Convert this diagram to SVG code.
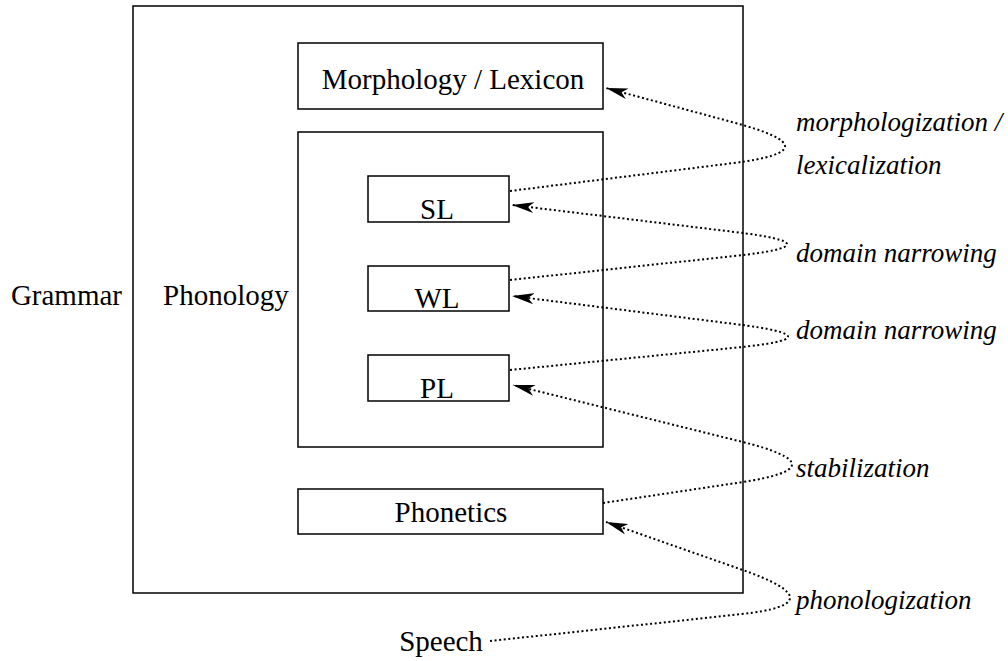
<svg xmlns="http://www.w3.org/2000/svg" width="1008" height="661" viewBox="0 0 1008 661">
  <style>
    .box { fill: none; stroke: #000; stroke-width: 1.5; }
    .t { font-family: "Liberation Serif", "Times New Roman", Tinos, "Noto Serif", "DejaVu Serif", serif; font-size: 29px; fill: #000; }
    .lbl { font-family: "Liberation Serif", "Times New Roman", Tinos, "Noto Serif", "DejaVu Serif", serif; font-size: 27px; font-style: italic; fill: #000; }
    .c { fill: none; stroke: #000; stroke-width: 2; stroke-dasharray: 2 2.6; }
  </style>
  <defs>
    <marker id="ar" markerUnits="userSpaceOnUse" viewBox="0 0 22 12" markerWidth="22" markerHeight="12" refX="22" refY="6" orient="auto">
      <path d="M0,0.5 L22,6 L0,11.5 L6,6 Z" fill="#000" stroke="none"/>
    </marker>
  </defs>
  <rect width="1008" height="661" fill="#fff"/>

  <g id="grammar">
    <rect class="box" x="133" y="6" width="610" height="587"/>
    <text class="t" x="122" y="305" text-anchor="end">Grammar</text>
  </g>
  <g id="morphology">
    <rect class="box" x="298" y="43" width="305" height="66"/>
    <text class="t" x="453" y="89" text-anchor="middle">Morphology / Lexicon</text>
  </g>
  <g id="phonology">
    <rect class="box" x="298" y="132" width="305" height="315"/>
    <text class="t" x="163" y="305">Phonology</text>
  </g>
  <g id="sl">
    <rect class="box" x="368" y="176" width="141" height="46"/>
    <text class="t" x="437" y="219" text-anchor="middle">SL</text>
  </g>
  <g id="wl">
    <rect class="box" x="368" y="266" width="141" height="45"/>
    <text class="t" x="437" y="308" text-anchor="middle">WL</text>
  </g>
  <g id="pl">
    <rect class="box" x="368" y="355" width="141" height="46"/>
    <text class="t" x="437" y="398" text-anchor="middle">PL</text>
  </g>
  <g id="phonetics">
    <rect class="box" x="298" y="489" width="305" height="45"/>
    <text class="t" x="451" y="522" text-anchor="middle">Phonetics</text>
  </g>
  <g id="speech">
    <text class="t" x="441" y="651" text-anchor="middle">Speech</text>
  </g>

  <g id="labels">
    <text class="lbl" x="796" y="131">morphologization /</text>
    <text class="lbl" x="796" y="174">lexicalization</text>
    <text class="lbl" x="796" y="262">domain narrowing</text>
    <text class="lbl" x="796" y="339">domain narrowing</text>
    <text class="lbl" x="796" y="477">stabilization</text>
    <text class="lbl" x="796" y="609">phonologization</text>
  </g>

  <g id="connectors">
    <path class="c" marker-end="url(#ar)" d="M510,191 L733,163.1 Q837,150 733,122.3 L606,88"/>
    <path class="c" marker-end="url(#ar)" d="M510,280 L734,256 Q840,244.7 734,231.9 L512,205"/>
    <path class="c" marker-end="url(#ar)" d="M510,370 L734.6,347.8 Q841.4,337.3 734.6,324 L512,296"/>
    <path class="c" marker-end="url(#ar)" d="M603,503 L740.4,482.4 Q843.6,466.9 740.4,441.4 L513,385"/>
    <path class="c" marker-end="url(#ar)" d="M490,641 L740.5,614.2 Q839.5,603.6 740.5,569.2 L606,522"/>
  </g>
</svg>
